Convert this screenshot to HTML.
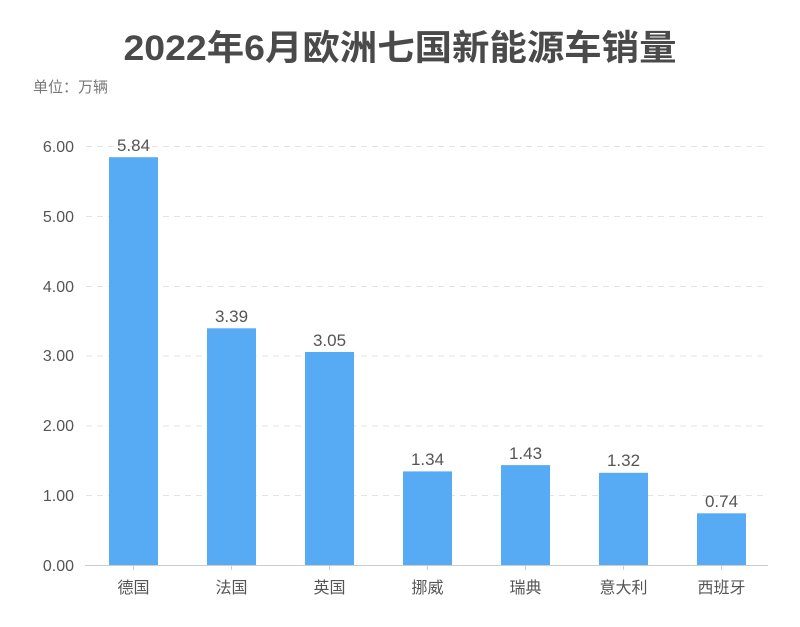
<!DOCTYPE html>
<html><head><meta charset="utf-8"><style>
html,body{margin:0;padding:0;background:#fff;}
svg{display:block;font-family:"Liberation Sans","Noto Sans CJK SC",sans-serif;}
</style></head><body>
<svg width="800" height="627" viewBox="0 0 800 627">
<text x="400" y="60" text-anchor="middle" font-size="35" font-weight="bold" fill="#4a4a4a" textLength="553" lengthAdjust="spacingAndGlyphs">2022年6月欧洲七国新能源车销量</text>
<text x="33" y="92" font-size="15" fill="#777">单位：万辆</text>
<g stroke="#e3e3e3" stroke-dasharray="6,5" stroke-width="1">
<line x1="86" x2="768" y1="146.5" y2="146.5"/>
<line x1="86" x2="768" y1="216.5" y2="216.5"/>
<line x1="86" x2="768" y1="286.5" y2="286.5"/>
<line x1="86" x2="768" y1="356" y2="356"/>
<line x1="86" x2="768" y1="426" y2="426"/>
<line x1="86" x2="768" y1="495.5" y2="495.5"/>
</g>
<g font-size="16" fill="#555" text-anchor="end">
<text x="74" y="152">6.00</text>
<text x="74" y="222">5.00</text>
<text x="74" y="292">4.00</text>
<text x="74" y="361">3.00</text>
<text x="74" y="431">2.00</text>
<text x="74" y="501">1.00</text>
<text x="74" y="571">0.00</text>
</g>
<g fill="#57abf5">
<rect x="109" y="157.2" width="49" height="407.8"/>
<rect x="207" y="328.3" width="49" height="236.7"/>
<rect x="305" y="352" width="49" height="213"/>
<rect x="403" y="471.4" width="49" height="93.6"/>
<rect x="501" y="465.1" width="49" height="99.9"/>
<rect x="599" y="472.8" width="49" height="92.2"/>
<rect x="697" y="513.3" width="49" height="51.7"/>
</g>
<line x1="85" x2="768" y1="565.5" y2="565.5" stroke="#ccc"/>
<g stroke="#ccc">
<line x1="133.5" x2="133.5" y1="566" y2="570"/><line x1="231.5" x2="231.5" y1="566" y2="570"/>
<line x1="329.5" x2="329.5" y1="566" y2="570"/><line x1="427.5" x2="427.5" y1="566" y2="570"/>
<line x1="525.5" x2="525.5" y1="566" y2="570"/><line x1="623.5" x2="623.5" y1="566" y2="570"/>
<line x1="721.5" x2="721.5" y1="566" y2="570"/>
</g>
<g font-size="17" fill="#555" text-anchor="middle">
<text x="133.5" y="151">5.84</text>
<text x="231.5" y="322">3.39</text>
<text x="329.5" y="346">3.05</text>
<text x="427.5" y="465">1.34</text>
<text x="525.5" y="459">1.43</text>
<text x="623.5" y="466">1.32</text>
<text x="721.5" y="507">0.74</text>
</g>
<g font-size="16" fill="#555" text-anchor="middle">
<text x="133.5" y="593">德国</text>
<text x="231.5" y="593">法国</text>
<text x="329.5" y="593">英国</text>
<text x="427.5" y="593">挪威</text>
<text x="525.5" y="593">瑞典</text>
<text x="623.5" y="593">意大利</text>
<text x="721.5" y="593">西班牙</text>
</g>
</svg>
</body></html>
